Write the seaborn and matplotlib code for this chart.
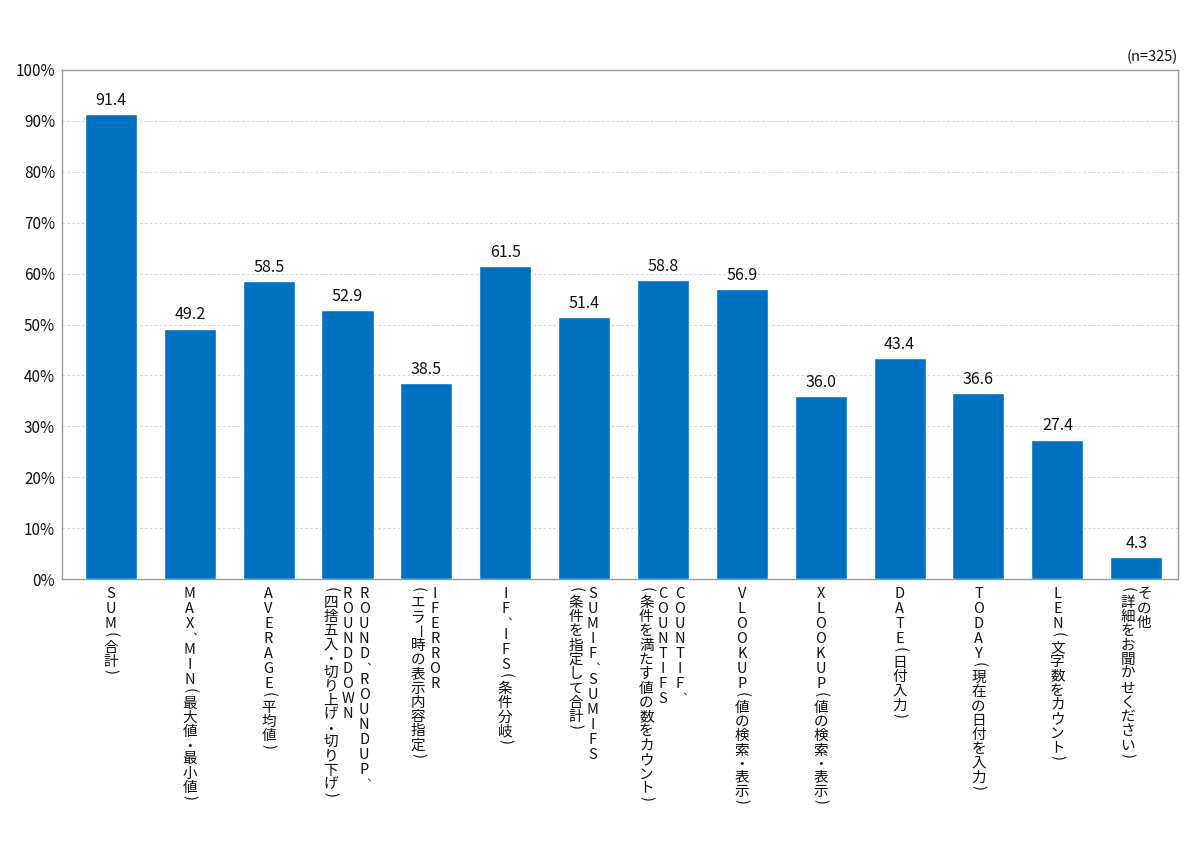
import matplotlib
matplotlib.use("Agg")
import matplotlib.pyplot as plt
import matplotlib.transforms as mtransforms
import seaborn as sns
import pandas as pd

categories = [
    "SUM(合計)",
    "MAX、MIN(最大値・最小値)",
    "AVERAGE(平均値)",
    "ROUND、ROUNDUP、ROUNDDOWN(四捨五入・切り上げ・切り下げ)",
    "IFERROR(エラー時の表示内容指定)",
    "IF、IFS(条件分岐)",
    "SUMIF、SUMIFS(条件を指定して合計)",
    "COUNTIF、COUNTIFS(条件を満たす値の数をカウント)",
    "VLOOKUP(値の検索・表示)",
    "XLOOKUP(値の検索・表示)",
    "DATE(日付入力)",
    "TODAY(現在の日付を入力)",
    "LEN(文字数をカウント)",
    "その他(詳細をお聞かせください)",
]
# label columns (right to left) as printed under each bar
label_columns = [
    ["SUM(合計)"],
    ["MAX、MIN(最大値・最小値)"],
    ["AVERAGE(平均値)"],
    ["ROUND、ROUNDUP、", "ROUNDDOWN", "(四捨五入・切り上げ・切り下げ)"],
    ["IFERROR", "(エラー時の表示内容指定)"],
    ["IF、IFS(条件分岐)"],
    ["SUMIF、SUMIFS", "(条件を指定して合計)"],
    ["COUNTIF、", "COUNTIFS", "(条件を満たす値の数をカウント)"],
    ["VLOOKUP(値の検索・表示)"],
    ["XLOOKUP(値の検索・表示)"],
    ["DATE(日付入力)"],
    ["TODAY(現在の日付を入力)"],
    ["LEN(文字数をカウント)"],
    ["その他", "(詳細をお聞かせください)"],
]
values = [91.4, 49.2, 58.5, 52.9, 38.5, 61.5, 51.4, 58.8, 56.9, 36.0, 43.4, 36.6, 27.4, 4.3]
yticks = [0, 10, 20, 30, 40, 50, 60, 70, 80, 90, 100]
ytick_labels = [f"{v}%" for v in yticks]
note = "(n=325)"

sns.set_theme(style="white")
plt.rcParams['font.family'] = ['Noto Sans CJK JP', 'DejaVu Sans']

df = pd.DataFrame({"cat": categories, "val": values})

fig = plt.figure(figsize=(12, 8.52), dpi=100)
ax = fig.add_axes([62/1200, 1 - 579/852, (1178-62)/1200, (579-70)/852])

sns.barplot(data=df, x="cat", y="val", color="#0070C0", saturation=1,
            width=0.66, ax=ax, zorder=3)

ax.set_ylim(0, 100)
ax.set_xlim(-0.62, len(categories) - 1 + 0.53)
ax.set_yticks(yticks)
ax.set_yticklabels(ytick_labels, fontsize=11, color="#111111")
ax.yaxis.grid(True, linestyle=(0, (2.5, 2.5)), color="#d0d0d0", linewidth=0.7, zorder=0)
ax.xaxis.grid(False)
ax.set_xticks(range(len(categories)))
ax.set_xticklabels([])
ax.tick_params(axis='x', length=0)
ax.tick_params(axis='y', length=0, pad=5)
ax.set_xlabel("")
ax.set_ylabel("")
for s in ax.spines.values():
    s.set_color("#999999")
    s.set_linewidth(1.0)

for i, v in enumerate(values):
    ax.text(i, v + 1.0, f"{v:.1f}", ha="center", va="bottom", fontsize=11.5, color="#111111")

# vertical (tategaki) tick labels, one glyph at a time
trans = mtransforms.blended_transform_factory(ax.transData, ax.transAxes)
col_step = 12.0      # points between columns
lab_fs = 10.5
for i, cols in enumerate(label_columns):
    n = len(cols)
    for j, col in enumerate(cols):
        dx = ((n - 1) / 2 - j) * col_step
        cum = 6.0
        for ch in col:
            rot = 0
            glyph = ch
            fs = lab_fs
            xs = 0.0
            if ch in "()":
                rot = 270
                adv = 6.0
            elif ch == "、":
                glyph = "︑"
                fs = 7.5
                adv = 8.0
                xs = 1.0
            elif ch == "ー":
                rot = 270
                adv = 10.3
            elif ch == "・":
                adv = 9.0
            elif ch.isascii():
                adv = 10.8
            else:
                adv = 10.3
            t = mtransforms.offset_copy(trans, fig=fig, x=dx + xs, y=-cum, units="points")
            ax.text(i, 0, glyph, transform=t, ha="center", va="top", rotation=rot,
                    fontsize=fs, color="#111111", clip_on=False)
            cum += adv

fig.text(1178/1200, 1 - 57/852, note, ha="right", va="center", fontsize=10.5, color="#111111")

fig.savefig("out.png", dpi=100, facecolor="white")
